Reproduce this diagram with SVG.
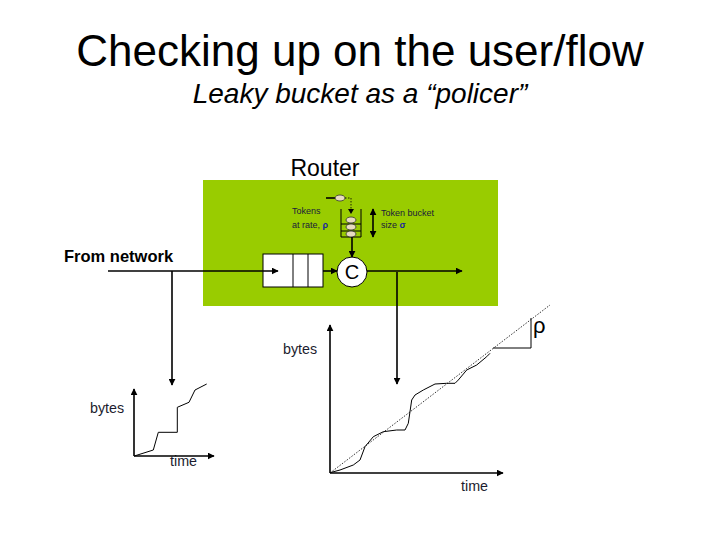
<svg xmlns="http://www.w3.org/2000/svg" width="720" height="540" viewBox="0 0 720 540">
<style>
text{font-family:"Liberation Sans",Arial,sans-serif;fill:#000}
.ln{stroke:#000;stroke-width:1.6;fill:none}
.thin{stroke:#000;stroke-width:1;fill:none}
.dot{stroke:#000;stroke-width:0.8;fill:none;stroke-dasharray:1.5 1.5}
.lbl{font-size:14.3px;fill:#1c1c2e}
.sm{font-size:9px;fill:#1a1a3a}
.tok{fill:#e8dcc0;stroke:#333;stroke-width:0.8}
</style>
<defs>
<marker id="ahs" viewBox="0 0 10 10" refX="9" refY="5" markerWidth="7" markerHeight="7" orient="auto-start-reverse" markerUnits="userSpaceOnUse">
<path d="M0,0 L10,5 L0,10 z" fill="#000"/>
</marker>
</defs>
<rect width="720" height="540" fill="#fff"/>
<text x="360" y="66" font-size="44" text-anchor="middle">Checking up on the user/flow</text>
<text x="360" y="103" font-size="28" font-style="italic" text-anchor="middle">Leaky bucket as a “policer”</text>
<g id="router">
<rect x="203" y="180" width="295" height="126" fill="#99cc00"/>
<text x="325" y="176" font-size="23" text-anchor="middle">Router</text>
</g>
<g id="queue">
<rect x="263" y="254" width="60" height="33" fill="#fff" stroke="#000" stroke-width="1"/>
<line class="thin" x1="293" y1="254" x2="293" y2="287"/>
<line class="thin" x1="308" y1="254" x2="308" y2="287"/>
</g>
<g id="token-bucket">
<path class="thin" d="M341,209 V237 H361 V209"/>
<line class="thin" x1="341" y1="224" x2="361" y2="224"/>
<line class="thin" x1="341" y1="231" x2="361" y2="231"/>
<ellipse class="tok" cx="351" cy="220" rx="5" ry="3"/>
<ellipse class="tok" cx="351" cy="227" rx="5" ry="3"/>
<ellipse class="tok" cx="351" cy="234" rx="5" ry="3"/>
<line x1="326" y1="198" x2="336" y2="198" stroke="#000" stroke-width="1.6"/>
<ellipse class="tok" cx="340" cy="198" rx="5" ry="3"/>
<path class="dot" d="M345,198 H351 V210"/>
<path d="M348,209 L351,214 L354,209 z" fill="#000"/>
<text class="sm" x="292" y="214">Tokens</text>
<text class="sm" x="292" y="228">at rate, <tspan fill="#1a2a9a" font-weight="bold">ρ</tspan></text>
<text class="sm" x="381" y="216">Token bucket</text>
<text class="sm" x="381" y="228">size <tspan fill="#1a2a9a" font-weight="bold">σ</tspan></text>
</g>
<g id="server">
<circle cx="352" cy="272" r="15" fill="#fff" stroke="#000" stroke-width="1"/>
<text x="352" y="279" font-size="20" fill="#1a1a6e" text-anchor="middle">C</text>
</g>
<g id="from-network">
<text x="64" y="262" font-size="16.5" font-weight="bold">From network</text>
</g>
<g id="graph-left">
<text class="lbl" x="90" y="413">bytes</text>
<text class="lbl" x="170" y="466">time</text>
<polyline class="thin" points="134.3,456 153.3,450 158.3,432.3 177.3,432.3 177.3,407.3 189,402.3 195,390 206.7,384"/>
</g>
<g id="graph-right">
<text class="lbl" x="283" y="354">bytes</text>
<text class="lbl" x="461" y="491">time</text>
<line class="dot" x1="330" y1="473" x2="550" y2="305"/>
<path class="thin" d="M493,348 H531 V318"/>
<text x="533" y="333" font-size="22">ρ</text>
<polyline class="thin" points="330,472.7 340,470 353.3,465 360,460 365,446.7 373.3,436.7 383.3,431.7 396.7,430 405,430 408.3,423.3 411.7,400 415,395 423.3,390 435,384 446.7,383.3 455,383.3 458.3,380 466.7,370 476.7,365 486.7,356.7 490,353.3"/>
</g>
<g id="connectors">
<line class="ln" x1="108" y1="271" x2="278" y2="271" marker-end="url(#ahs)"/>
<line class="ln" x1="323" y1="271" x2="337" y2="271" marker-end="url(#ahs)"/>
<line class="ln" x1="367" y1="271" x2="462" y2="271" marker-end="url(#ahs)"/>
<line class="ln" x1="352" y1="237" x2="352" y2="257" marker-end="url(#ahs)"/>
<line class="ln" x1="373" y1="209" x2="373" y2="237" marker-start="url(#ahs)" marker-end="url(#ahs)"/>
<line class="ln" x1="172" y1="271" x2="172" y2="385" marker-end="url(#ahs)"/>
<line class="ln" x1="397" y1="272" x2="397" y2="384" marker-end="url(#ahs)"/>
<line class="ln" x1="134" y1="456" x2="134" y2="389" marker-end="url(#ahs)"/>
<line class="ln" x1="134" y1="456" x2="214" y2="456" marker-end="url(#ahs)"/>
<line class="ln" x1="330" y1="473" x2="330" y2="325" marker-end="url(#ahs)"/>
<line class="ln" x1="330" y1="473" x2="503" y2="473" marker-end="url(#ahs)"/>
</g>
</svg>
